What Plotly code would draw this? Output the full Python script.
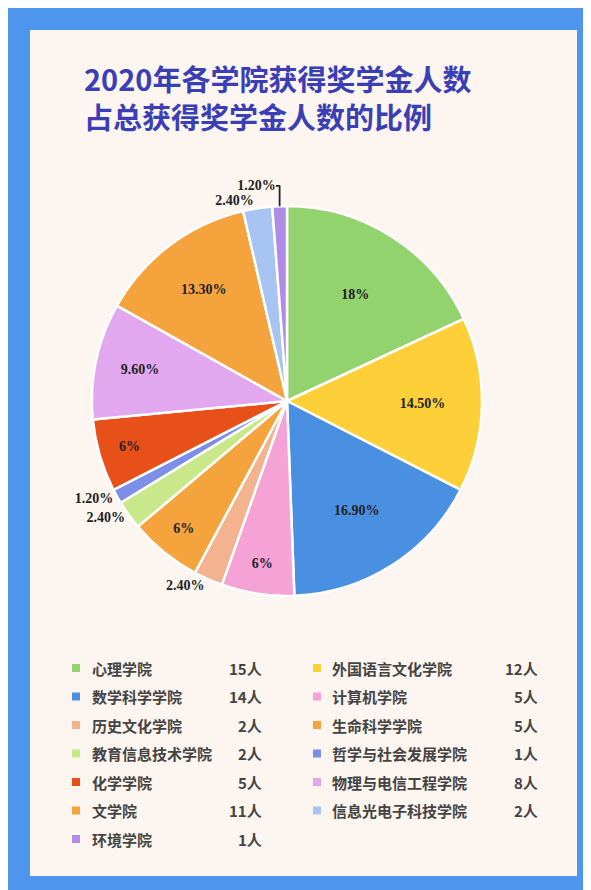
import plotly.graph_objects as go

colleges = ['心理学院', '外国语言文化学院', '数学科学学院', '计算机学院', '历史文化学院',
            '生命科学学院', '教育信息技术学院', '哲学与社会发展学院', '化学学院',
            '物理与电信工程学院', '文学院', '信息光电子科技学院', '环境学院']
counts = [15, 12, 14, 5, 2, 5, 2, 1, 5, 8, 11, 2, 1]
pct_labels = ['18%', '14.50%', '16.90%', '6%', '2.40%', '6%', '2.40%', '1.20%', '6%',
              '9.60%', '13.30%', '2.40%', '1.20%']
colors = ['#92d36e', '#fdd03a', '#4a90e2', '#f5a3d6', '#f2b38e', '#f5a33c', '#c8e88a',
          '#7b8fe8', '#e8501a', '#e1a8f0', '#f5a33c', '#a7c4f2', '#b08ce8']

W, H = 591, 890
small = [c <= 2 for c in counts]

fig = go.Figure()
fig.add_trace(go.Pie(
    values=counts, labels=colleges, text=['<b>' + t + '</b>' for t in pct_labels],
    textinfo='text',
    sort=False, direction='clockwise', rotation=0,
    marker=dict(colors=colors, line=dict(color='white', width=2.5)),
    textposition=['outside' if s else 'inside' for s in small],
    insidetextorientation='horizontal',
    textfont=dict(family='Liberation Serif', size=14, color='#222222'),
    outsidetextfont=dict(family='Liberation Serif', size=14, color='#222222'),
    domain=dict(x=[84 / W, 474 / W], y=[1 - 590 / H, 1 - 196 / H]),
    showlegend=False, hoverinfo='label+value',
))

shapes = [dict(type='rect', xref='paper', yref='paper', x0=22 / W, x1=569 / W,
               y0=1 - 868 / H, y1=1 - 22 / H, fillcolor='#fcf5f0', line=dict(width=0),
               layer='below')]
ann = []
for line, yy in [('2020年各学院获得奖学金人数', 70), ('占总获得奖学金人数的比例', 108)]:
    ann.append(dict(text='<b>' + line + '</b>', x=74 / W, y=1 - yy / H, xref='paper',
                    yref='paper', xanchor='left', yanchor='middle', showarrow=False,
                    font=dict(family='Noto Sans CJK SC', size=29, color='#3b3fb5')))

for i, (name, n) in enumerate(zip(colleges, counts)):
    row, col = i // 2, i % 2
    yy = 660 + row * 28.5
    mx, tx, cx = (68, 82, 256) if col == 0 else (309, 322, 532)
    shapes.append(dict(type='rect', xref='paper', yref='paper',
                       x0=(mx - 4) / W, x1=(mx + 4) / W,
                       y0=1 - (yy + 4) / H, y1=1 - (yy - 4) / H,
                       fillcolor=colors[i], line=dict(width=0)))
    ann.append(dict(text='<b>' + name + '</b>', x=tx / W, y=1 - yy / H, xref='paper',
                    yref='paper', xanchor='left', yanchor='middle', showarrow=False,
                    font=dict(family='Noto Sans CJK SC', size=15, color='#444444')))
    ann.append(dict(text='<b>%d人</b>' % n, x=cx / W, y=1 - yy / H, xref='paper',
                    yref='paper', xanchor='right', yanchor='middle', showarrow=False,
                    font=dict(family='Noto Sans CJK SC', size=15, color='#444444')))

fig.update_layout(
    width=W, height=H, margin=dict(l=0, r=0, t=0, b=0),
    paper_bgcolor='#4e95ee', plot_bgcolor='#fcf5f0',
    shapes=shapes, annotations=ann,
)
fig.write_html('out.html')
